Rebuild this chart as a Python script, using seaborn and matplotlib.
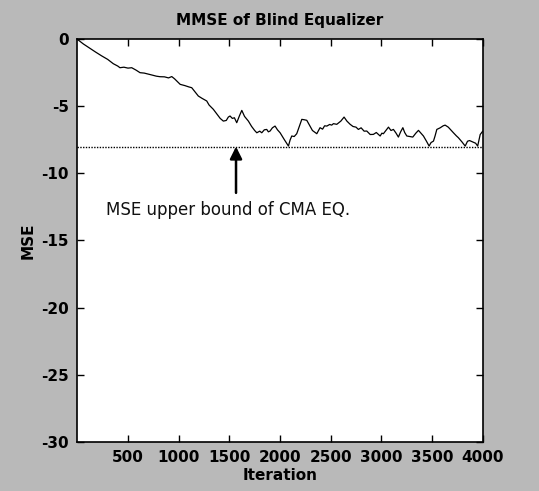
import numpy as np
import pandas as pd
import matplotlib
matplotlib.use("Agg")
import matplotlib.pyplot as plt
import seaborn as sns

# === Data ===
iterations = [0, 60, 120, 180, 241, 300, 355, 400, 421, 460, 500, 537, 580, 619, 660,
              700, 734, 780, 816, 860, 900, 932, 960, 1015, 1060, 1100, 1129, 1160,
              1194, 1230, 1277, 1300, 1342, 1380, 1410, 1441, 1470, 1490, 1507, 1530,
              1550, 1573, 1600, 1623, 1650, 1688, 1720, 1750, 1771, 1800, 1820, 1845,
              1869, 1885, 1902, 1925, 1951, 1975, 2001, 2040, 2083, 2100, 2116, 2140,
              2165, 2190, 2215, 2240, 2264, 2290, 2320, 2363, 2380, 2395, 2420, 2440,
              2462, 2490, 2510, 2527, 2560, 2600, 2632, 2660, 2692, 2720, 2750, 2773,
              2800, 2830, 2856, 2890, 2921, 2950, 2988, 3005, 3020, 3045, 3070, 3095,
              3119, 3145, 3168, 3190, 3212, 3230, 3251, 3280, 3310, 3340, 3366, 3390,
              3415, 3445, 3471, 3490, 3514, 3530, 3547, 3580, 3610, 3629, 3660, 3690,
              3711, 3740, 3760, 3795, 3827, 3850, 3870, 3900, 3930, 3950, 3975, 4000]
mse = [0, -0.35, -0.65, -0.95, -1.24, -1.5, -1.82, -2.0, -2.12, -2.08, -2.15, -2.12,
       -2.3, -2.49, -2.52, -2.6, -2.66, -2.75, -2.79, -2.8, -2.88, -2.78, -2.95, -3.36,
       -3.45, -3.55, -3.61, -3.9, -4.23, -4.4, -4.6, -4.9, -5.22, -5.6, -5.9, -6.1,
       -6.05, -5.8, -5.72, -5.9, -5.85, -6.22, -5.7, -5.3, -5.75, -6.1, -6.5, -6.8,
       -6.97, -6.85, -6.97, -6.75, -6.72, -6.9, -6.84, -6.6, -6.47, -6.75, -6.97,
       -7.45, -7.96, -7.5, -7.21, -7.25, -7.04, -6.5, -5.97, -6.0, -6.04, -6.4, -6.8,
       -7.04, -6.8, -6.59, -6.7, -6.45, -6.47, -6.35, -6.4, -6.29, -6.34, -6.1, -5.8,
       -6.1, -6.34, -6.5, -6.55, -6.72, -6.6, -6.85, -6.84, -7.1, -7.09, -6.95, -7.21,
       -7.0, -7.04, -6.8, -6.55, -6.8, -6.72, -7.0, -7.29, -6.9, -6.59, -6.95, -7.21,
       -7.25, -7.29, -7.0, -6.79, -7.0, -7.21, -7.6, -7.96, -7.7, -7.59, -7.2, -6.72,
       -6.6, -6.45, -6.4, -6.55, -6.8, -6.97, -7.2, -7.34, -7.65, -7.96, -7.6, -7.55,
       -7.65, -7.75, -7.96, -7.1, -6.85]

bound_level = -8
x_ticks = [500, 1000, 1500, 2000, 2500, 3000, 3500, 4000]
y_ticks = [0, -5, -10, -15, -20, -25, -30]
arrow_iter = 1566

df = pd.DataFrame({"Iteration": iterations, "MSE": mse})

# === Plot ===
sns.set_style("ticks")
plt.rcParams["font.family"] = ["Liberation Sans Narrow", "DejaVu Sans"]
plt.rcParams["axes.unicode_minus"] = False
plt.rcParams["text.color"] = "black"
plt.rcParams["axes.labelcolor"] = "black"
plt.rcParams["xtick.color"] = "black"
plt.rcParams["ytick.color"] = "black"

bg = "#b9b9b9"
fig = plt.figure(figsize=(5.39, 4.91), dpi=100, facecolor=bg)
ax = fig.add_axes([0.1434, 0.1004, 0.7522, 0.8196])
ax.set_facecolor("white")

sns.lineplot(data=df, x="Iteration", y="MSE", color="black", linewidth=0.9,
             estimator=None, ax=ax)
ax.axhline(bound_level, color="black", linestyle=(0, (1, 1)), linewidth=1.0)

ax.annotate("", xy=(arrow_iter, bound_level), xytext=(arrow_iter, -11.45),
            arrowprops=dict(arrowstyle="-|>", color="black", lw=1.8,
                            mutation_scale=18, shrinkA=0, shrinkB=0))
ax.text(1488, -12.73, "MSE upper bound of CMA EQ.", ha="center", va="center",
        fontsize=12, color="#111111", family=["DejaVu Sans"])

ax.set_xlim(0, 4000)
ax.set_ylim(-30, 0)
ax.set_xticks(x_ticks)
ax.set_yticks(y_ticks)
ax.tick_params(direction="in", length=5, width=1, top=True, right=True,
               labelsize=11, pad=6)
for lab in ax.get_xticklabels() + ax.get_yticklabels():
    lab.set_fontweight("bold")
for s in ax.spines.values():
    s.set_linewidth(1.2)
    s.set_color("black")

ax.set_title("MMSE of Blind Equalizer", fontsize=11, fontweight="bold", pad=10)
ax.set_xlabel("Iteration", fontsize=11, fontweight="bold", labelpad=2)
ax.set_ylabel("MSE", fontsize=11, fontweight="bold", labelpad=4)

fig.savefig("out.png", dpi=100, facecolor=bg)
